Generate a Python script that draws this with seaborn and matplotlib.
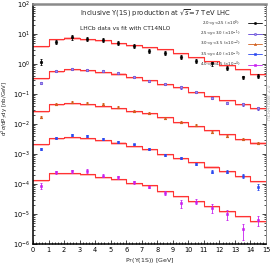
import numpy as np
import pandas as pd
import matplotlib
matplotlib.use("Agg")
import matplotlib.pyplot as plt
from matplotlib.lines import Line2D
from matplotlib.ticker import MultipleLocator, LogLocator
import seaborn as sns

# bins in pT(Y(1S)) [GeV]
pt_edges = list(range(0, 16))
pt_centres = [0.5 + i for i in range(15)]

labels = ["2.0<y<2.5 ($\\times$10$^{0}$)", "2.5<y<3.0 ($\\times$10$^{-1}$)",
          "3.0<y<3.5 ($\\times$10$^{-2}$)", "3.5<y<4.0 ($\\times$10$^{-3}$)",
          "4.0<y<4.5 ($\\times$10$^{-4}$)"]
colors = ["black", "#5b3fd6", "#d2601e", "#2a48f0", "#c81ef0"]
markers = ["o", "o", "^", "s", "s"]

# LHCb data (already scaled as drawn)
data_y20 = [1.2, 5.5, 7.8, 6.8, 6.5, 5.1, 3.9, 2.75, 2.4, 1.74, 1.26, 1.05, 0.72, 0.36, 0.40]
data_y25 = [0.24, 0.58, 0.68, 0.63, 0.60, 0.51, 0.36, 0.27, 0.21, 0.166, 0.117, 0.074, 0.051, 0.045, 0.033]
data_y30 = [0.0174, 0.046, 0.055, 0.052, 0.046, 0.036, 0.027, 0.023, 0.0162, 0.0115, 0.0091, 0.0055, 0.0040, 0.0032, 0.0023]
data_y35 = [0.00148, 0.00347, 0.00427, 0.00407, 0.00316, 0.00257, 0.00209, 0.00148, 0.00093, 0.00072,
            0.00047, 0.00026, 0.00026, 0.00019, 0.000081]
data_y40 = [8.7e-5, 2.45e-4, 2.7e-4, 2.7e-4, 1.9e-4, 1.66e-4, 1.15e-4, 8.1e-5, 5.1e-5, 2.3e-5,
            2.6e-5, 1.6e-5, 9.8e-6, 3.1e-6, 6.3e-6]

# relative errors
err_y20 = [0.2, 0.18, 0.16, 0.16, 0.16, 0.15, 0.15, 0.15, 0.15, 0.15, 0.15, 0.15, 0.15, 0.15, 0.15]
err_y25 = [0.08] * 15
err_y30 = [0.08] * 15
err_y35 = [0.08, 0.07, 0.07, 0.07, 0.07, 0.07, 0.07, 0.08, 0.08, 0.08, 0.1, 0.12, 0.12, 0.14, 0.2]
err_y40 = [0.2, 0.12, 0.12, 0.15, 0.12, 0.12, 0.1, 0.1, 0.15, 0.3, 0.2, 0.3, 0.35, 0.55, 0.35]

# CT14NLO fit
fit_y20 = [4.0, 6.8, 7.6, 6.6, 6.3, 4.9, 4.4, 3.8, 3.1, 2.3, 1.66, 1.26, 0.91, 0.66, 0.47]
fit_y25 = [0.33, 0.60, 0.68, 0.62, 0.55, 0.48, 0.38, 0.30, 0.21, 0.166, 0.117, 0.085, 0.063, 0.047, 0.034]
fit_y30 = [0.0275, 0.047, 0.051, 0.047, 0.041, 0.033, 0.0275, 0.023, 0.0174, 0.012, 0.0087, 0.0063, 0.0046, 0.0031, 0.0024]
fit_y35 = [0.00214, 0.00347, 0.00363, 0.00331, 0.00288, 0.0024, 0.0019, 0.00145, 0.00102, 0.00072,
           0.00055, 0.00038, 0.000275, 0.00019, 0.000129]
fit_y40 = [1.35e-4, 2.3e-4, 2.3e-4, 2.1e-4, 1.74e-4, 1.45e-4, 1.1e-4, 9.3e-5, 5.9e-5, 4.0e-5,
           2.75e-5, 1.9e-5, 1.29e-5, 8.7e-6, 5.9e-6]

datas = [data_y20, data_y25, data_y30, data_y35, data_y40]
errs = [err_y20, err_y25, err_y30, err_y35, err_y40]
fits = [fit_y20, fit_y25, fit_y30, fit_y35, fit_y40]

sns.set_style("ticks")
plt.rcParams["font.family"] = ["DejaVu Sans"]

fig = plt.figure(figsize=(2.74, 2.69), dpi=100)
ax = fig.add_axes([0.1204, 0.0929, 0.8504, 0.8921])

handles = []
for i in range(5):
    fit_steps = fits[i] + [fits[i][-1]]
    df_fit = pd.DataFrame({"pt": pt_edges, "fit": fit_steps})
    ax.fill_between(df_fit["pt"], df_fit["fit"] * 0.86, df_fit["fit"] * 1.01,
                    step="post", color="#ffc4c4", lw=0, zorder=1)
    sns.lineplot(data=df_fit, x="pt", y="fit", ax=ax, color="#ff3333", lw=0.8,
                 drawstyle="steps-post", estimator=None, sort=False, zorder=2)

    df = pd.DataFrame({"pt": pt_centres, "sigma": datas[i], "rel": errs[i]})
    ax.errorbar(df["pt"], df["sigma"], yerr=df["sigma"] * df["rel"], fmt="none",
                ecolor=colors[i], elinewidth=0.6, capsize=1.0, capthick=0.6, zorder=3)
    face = "#a898ee" if i == 1 else colors[i]
    sns.scatterplot(data=df, x="pt", y="sigma", ax=ax, color=colors[i], marker=markers[i],
                    s=3.5, edgecolor=colors[i], facecolor=face, linewidth=0.4, zorder=4,
                    legend=False)
    handles.append(Line2D([], [], color=colors[i], marker=markers[i], ms=1.6, lw=0.6,
                          mfc=face, mec=colors[i], mew=0.4))

ax.set_yscale("log")
ax.set_xlim(0, 15)
ax.set_ylim(1e-6, 1e2)
ax.xaxis.set_major_locator(MultipleLocator(1))
ax.xaxis.set_minor_locator(MultipleLocator(0.2))
ax.yaxis.set_major_locator(LogLocator(base=10, numticks=20))
ax.yaxis.set_minor_locator(LogLocator(base=10, subs=np.arange(2, 10), numticks=20))
ax.tick_params(which="both", direction="in", right=True, top=False, labelsize=4.8,
               pad=2, width=0.5, colors="black")
ax.tick_params(which="major", length=3)
ax.tick_params(which="minor", length=1.6)

ax.set_xlabel("P$_T$($\\Upsilon$(1S)) [GeV]", fontsize=4.5)
ax.xaxis.set_label_coords(0.5, -0.052)
ax.set_ylabel("d$^2\\sigma$/dP$_T$dy [nb/GeV]", fontsize=4.0)
ax.yaxis.set_label_coords(-0.098, 0.567)

for side in ["left", "bottom"]:
    ax.spines[side].set_linewidth(1.1)
    ax.spines[side].set_color("black")
ax.spines["top"].set_linewidth(1.8)
ax.spines["top"].set_color("#8a8a8a")
ax.spines["right"].set_linewidth(0.7)
ax.spines["right"].set_color("#8a8a8a")

ax.text(0.2, 0.962, "Inclusive $\\Upsilon$(1S) production at $\\sqrt{s}$=7 TeV LHC",
        transform=ax.transAxes, fontsize=4.85, va="center", ha="left")
ax.text(0.2, 0.9, "LHCb data vs fit with CT14NLO", transform=ax.transAxes,
        fontsize=4.2, va="center", ha="left")

leg = ax.legend(handles, labels, loc="upper right", bbox_to_anchor=(0.983, 0.94),
                fontsize=2.9, frameon=False, markerfirst=False, handlelength=3.6,
                labelspacing=0.0, borderaxespad=0, borderpad=0, handletextpad=1.8)

fig.text(0.985, 0.62, "HERAFitter 2.0", rotation=90, fontsize=3.5, color="#b0b0b0",
         ha="center", va="center")

fig.savefig("out.png", dpi=100)
